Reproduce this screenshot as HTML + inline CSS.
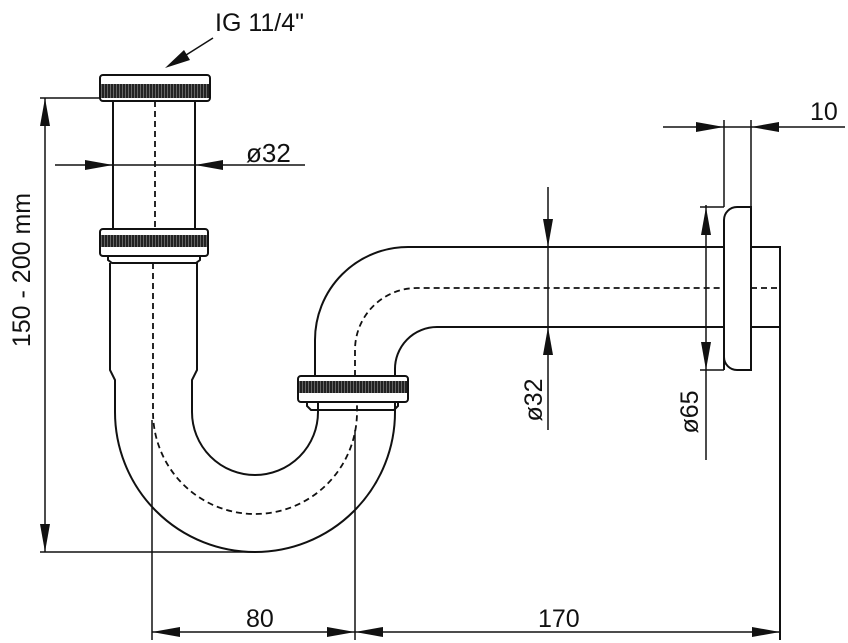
<!DOCTYPE html>
<html><head><meta charset="utf-8"><style>
html,body{margin:0;padding:0;background:#fff;}
svg{display:block;}
text{font-family:"Liberation Sans",sans-serif;fill:#111;}
</style></head><body>
<svg width="848" height="643" viewBox="0 0 848 643" xmlns="http://www.w3.org/2000/svg">
<defs>
<pattern id="kn" width="3" height="10" patternUnits="userSpaceOnUse"><rect width="3" height="10" fill="#222"/><rect x="2" width="1" height="10" fill="#666"/></pattern>
</defs>
<g fill="none" stroke="#111" stroke-width="2">
<!-- top cap -->
<rect x="100" y="75" width="110" height="26" rx="3" fill="#fff"/>
<rect x="101" y="84" width="108" height="14" fill="url(#kn)" stroke="none"/>
<!-- upper tube -->
<line x1="113" y1="101" x2="113" y2="229"/><line x1="195" y1="101" x2="195" y2="229"/>
<!-- middle nut -->
<rect x="100" y="229" width="108" height="27" rx="3" fill="#fff"/>
<rect x="101" y="235" width="106" height="12" fill="url(#kn)" stroke="none"/>
<path d="M108 256 L108 260 L112 263 L196 263 L200 260 L200 256"/>
<!-- lower tube + U -->
<path d="M110 263 L110 370 L115 380 L115 412 A140 140 0 0 0 395 412 L395 402"/>
<path d="M197 263 L197 370 L192 380 L192 412 A63 63 0 0 0 318 412 L318 402"/>
<path d="M307 402 L307 406 L311 410 L394 410 L398 406 L398 402"/>
<!-- right nut -->
<rect x="298" y="376" width="110" height="26" rx="3" fill="#fff"/>
<rect x="299" y="381" width="108" height="12" fill="url(#kn)" stroke="none"/>
<!-- upper bend -->
<path d="M315 376 L315 340 A93 93 0 0 1 408 247 L724 247"/>
<path d="M395 376 L395 370 A42 42 0 0 1 437 327 L724 327"/>
<path d="M751 247 L780 247 L780 640"/>
<path d="M751 327 L780 327"/>
<!-- flange -->
<path d="M724 370 L724 220 A13 13 0 0 1 737 207 L751 207 L751 370 L737 370 A13 13 0 0 1 724 357"/>
<line x1="724" y1="120" x2="724" y2="207" stroke-width="1.5"/>
<line x1="751" y1="120" x2="751" y2="207" stroke-width="1.5"/>
</g>
<!-- centerlines dashed -->
<g fill="none" stroke="#111" stroke-width="1.8" stroke-dasharray="6,4">
<line x1="155" y1="101" x2="155" y2="229"/>
<path d="M153 263 L153 412 A102 102 0 0 0 357 412 L357 402"/>
<path d="M355 376 L355 350 A62 62 0 0 1 417 288 L724 288"/>
<line x1="751" y1="288" x2="780" y2="288"/>
</g>
<!-- dimension lines -->
<g stroke="#111" stroke-width="1.5" fill="none">
<line x1="40" y1="98" x2="100" y2="98"/>
<line x1="40" y1="552" x2="255" y2="552"/>
<line x1="45" y1="98" x2="45" y2="552"/>
<line x1="55" y1="165" x2="305" y2="165"/>
<line x1="548" y1="187" x2="548" y2="430"/>
<line x1="706" y1="205" x2="706" y2="460"/>
<line x1="700" y1="207" x2="724" y2="207"/>
<line x1="700" y1="370" x2="724" y2="370"/>
<line x1="663" y1="127" x2="845" y2="127"/>
<line x1="152" y1="420" x2="152" y2="640"/>
<line x1="355" y1="430" x2="355" y2="640"/>
<line x1="152" y1="632" x2="780" y2="632"/>
<line x1="213" y1="38" x2="175" y2="62"/>
</g>
<g fill="#111">
<polygon points="45,98 40,126 50,126"/>
<polygon points="45,552 40,524 50,524"/>
<polygon points="113,165 85,160 85,170"/>
<polygon points="195,165 223,160 223,170"/>
<polygon points="548,247 543,219 553,219"/>
<polygon points="548,327 543,355 553,355"/>
<polygon points="706,207 701,235 711,235"/>
<polygon points="706,370 701,342 711,342"/>
<polygon points="724,127 696,122 696,132"/>
<polygon points="751,127 779,122 779,132"/>
<polygon points="152,632 180,627 180,637"/>
<polygon points="355,632 327,627 327,637"/>
<polygon points="355,632 383,627 383,637"/>
<polygon points="780,632 752,627 752,637"/>
<polygon points="165,68 184,50 190,60"/>
</g>
<text x="215" y="31" font-size="25">IG 11/4"</text>
<text x="246" y="162" font-size="26">ø32</text>
<text x="810" y="120" font-size="25">10</text>
<text x="246" y="627" font-size="25">80</text>
<text x="538" y="627" font-size="25">170</text>
<text transform="translate(30,270) rotate(-90)" text-anchor="middle" font-size="25">150 - 200 mm</text>
<text transform="translate(542,400) rotate(-90)" text-anchor="middle" font-size="25">ø32</text>
<text transform="translate(698,412) rotate(-90)" text-anchor="middle" font-size="25">ø65</text>
</svg>
</body></html>
